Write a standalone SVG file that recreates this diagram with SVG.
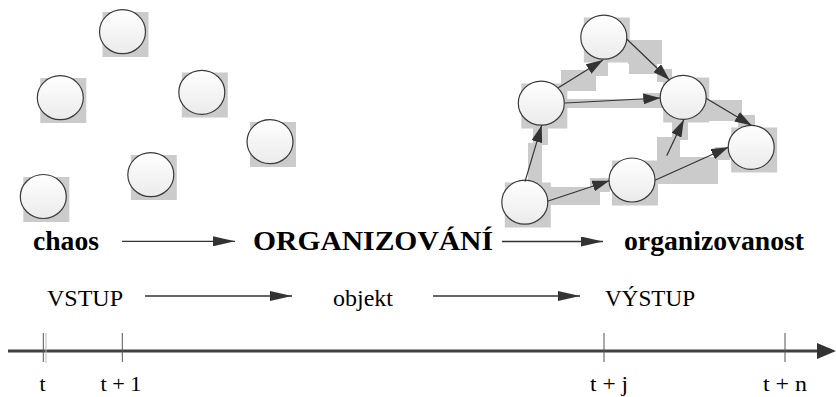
<svg xmlns="http://www.w3.org/2000/svg" width="836" height="397" viewBox="0 0 836 397">
  <defs>
    <linearGradient id="ball" x1="0" y1="0" x2="0" y2="1">
      <stop offset="0" stop-color="#ffffff"/>
      <stop offset="1" stop-color="#ebebeb"/>
    </linearGradient>
    <marker id="tip" viewBox="0 0 17 11" refX="17" refY="5.5" markerWidth="17" markerHeight="11" markerUnits="userSpaceOnUse" orient="auto">
      <path d="M0,0 L17,5.5 L0,11 z" fill="#333333"/>
    </marker>
    <marker id="bigtip" viewBox="0 0 22 10" refX="22" refY="5" markerWidth="22" markerHeight="10" markerUnits="userSpaceOnUse" orient="auto">
      <path d="M0,0 L22,5 L0,10 z" fill="#333333"/>
    </marker>
  </defs>
  <style>
    .shadow { fill: #cbcbcb; }
    .ball { fill: url(#ball); stroke: #3a3a3a; stroke-width: 1.2; }
    .edge { stroke: #333333; stroke-width: 1.2; fill: none; marker-end: url(#tip); }
    .flow { stroke: #333333; stroke-width: 1.3; fill: none; marker-end: url(#bigtip); }
    .tick { stroke: #555555; stroke-width: 1; }
    text { font-family: "Liberation Serif", Tinos, "Noto Serif", "DejaVu Serif", FreeSerif, Times, serif; fill: #000000; }
    .bold { font-weight: bold; font-size: 28px; }
    .plain { font-size: 24px; }
    .small { font-size: 22px; }
  </style>

  <!-- scattered nodes -->
  <g id="chaos-a"><rect class="shadow" x="102.5" y="12" width="46" height="45"/><ellipse class="ball" cx="122.5" cy="31.7" rx="23" ry="22"/></g>
  <g id="chaos-b"><rect class="shadow" x="40.3" y="78" width="46" height="45"/><ellipse class="ball" cx="60.3" cy="97.7" rx="23" ry="22"/></g>
  <g id="chaos-c"><rect class="shadow" x="181.8" y="72.5" width="46" height="45"/><ellipse class="ball" cx="201.8" cy="92.3" rx="23" ry="22"/></g>
  <g id="chaos-d"><rect class="shadow" x="250" y="122" width="46" height="45"/><ellipse class="ball" cx="270" cy="141.7" rx="23" ry="22"/></g>
  <g id="chaos-e"><rect class="shadow" x="130.8" y="155" width="46" height="45"/><ellipse class="ball" cx="150.8" cy="174.7" rx="23" ry="22"/></g>
  <g id="chaos-f"><rect class="shadow" x="23.3" y="177" width="46" height="45"/><ellipse class="ball" cx="43.3" cy="196.5" rx="23" ry="22"/></g>

  <!-- connector shadows -->
  <g id="edge-shadows" class="shadow">
    <rect x="528" y="143" width="14" height="41"/>
    <rect x="533" y="127" width="15" height="18"/>
    <rect x="561" y="70" width="35" height="21"/>
    <rect x="593" y="61" width="15" height="15"/>
    <rect x="565" y="99" width="83" height="9"/>
    <rect x="643" y="93" width="20" height="15"/>
    <rect x="628" y="40" width="34" height="24"/>
    <rect x="629" y="63" width="28" height="11"/>
    <rect x="657" y="69" width="15" height="13"/>
    <rect x="706" y="100" width="36" height="21"/>
    <rect x="738" y="115" width="17" height="12"/>
    <rect x="547" y="187" width="53" height="18"/>
    <rect x="590" y="178" width="20" height="14"/>
    <rect x="657" y="157" width="61" height="27"/>
    <rect x="715" y="147" width="15" height="13"/>
    <rect x="657" y="137" width="23" height="20"/>
    <rect x="672" y="122" width="16" height="18"/>
  </g>

  <!-- organised nodes -->
  <g id="node-1"><rect class="shadow" x="583.8" y="17.5" width="46" height="45"/><ellipse class="ball" cx="603.8" cy="37.2" rx="23" ry="22"/></g>
  <g id="node-2"><rect class="shadow" x="521.3" y="83.5" width="46" height="45"/><ellipse class="ball" cx="541.3" cy="103.2" rx="23" ry="22"/></g>
  <g id="node-3"><rect class="shadow" x="663.2" y="77.5" width="46" height="45"/><ellipse class="ball" cx="683.2" cy="97.3" rx="23" ry="22"/></g>
  <g id="node-4"><rect class="shadow" x="731.2" y="127.5" width="46" height="45"/><ellipse class="ball" cx="751.2" cy="147.3" rx="23" ry="22"/></g>
  <g id="node-5"><rect class="shadow" x="612" y="160.5" width="46" height="45"/><ellipse class="ball" cx="632" cy="180" rx="23" ry="22"/></g>
  <g id="node-6"><rect class="shadow" x="504.8" y="182.5" width="46" height="45"/><ellipse class="ball" cx="524.8" cy="202.2" rx="23" ry="22"/></g>

  <!-- connectors -->
  <g id="connectors">
    <line class="edge" x1="525" y1="181.7" x2="541.7" y2="125.3"/>
    <line class="edge" x1="558.3" y1="87.7" x2="603" y2="60"/>
    <line class="edge" x1="565" y1="103" x2="660.3" y2="98"/>
    <line class="edge" x1="626.7" y1="39" x2="669.5" y2="80"/>
    <line class="edge" x1="706" y1="98.3" x2="751.7" y2="125.5"/>
    <line class="edge" x1="547.5" y1="201.3" x2="609.3" y2="180.7"/>
    <line class="edge" x1="655" y1="180.2" x2="728.3" y2="147.2"/>
    <line class="edge" x1="666.7" y1="155.7" x2="683.8" y2="119.8"/>

    <line class="flow" x1="122" y1="241.3" x2="235" y2="241.3"/>
    <line class="flow" x1="502" y1="241.5" x2="603" y2="241.5"/>
    <line class="flow" x1="145" y1="296" x2="292" y2="296"/>
    <line class="flow" x1="433" y1="296" x2="580" y2="296"/>
  </g>

  <!-- labels -->
  <g id="labels">
    <text class="bold" x="33" y="250" textLength="66" lengthAdjust="spacingAndGlyphs">chaos</text>
    <text class="bold" x="253" y="250" textLength="240" lengthAdjust="spacingAndGlyphs">ORGANIZOVÁNÍ</text>
    <text class="bold" x="624" y="250" textLength="180" lengthAdjust="spacingAndGlyphs">organizovanost</text>
    <text class="plain" x="47" y="306" textLength="76" lengthAdjust="spacingAndGlyphs">VSTUP</text>
    <text class="plain" x="333" y="306" textLength="60" lengthAdjust="spacingAndGlyphs">objekt</text>
    <text class="plain" x="605" y="306" textLength="90" lengthAdjust="spacingAndGlyphs">VÝSTUP</text>
  </g>

  <!-- time axis -->
  <g id="time-axis">
    <line x1="8" y1="351" x2="820" y2="351" stroke="#404040" stroke-width="3"/>
    <path d="M817,343 L836,351 L817,359 z" fill="#333333"/>
    <line class="tick" x1="43.3" y1="333" x2="43.3" y2="362"/>
    <line x1="46" y1="333" x2="46" y2="363" stroke="#bbbbbb" stroke-width="1"/>
    <line class="tick" x1="122.3" y1="333" x2="122.3" y2="362"/>
    <line class="tick" x1="604" y1="333" x2="604" y2="362"/>
    <line class="tick" x1="785" y1="333" x2="785" y2="362"/>
  </g>
  <g id="tick-labels">
    <text class="small" x="39.5" y="391">t</text>
    <text class="small" x="100.5" y="391" textLength="41" lengthAdjust="spacingAndGlyphs">t + 1</text>
    <text class="small" x="590" y="391" textLength="38" lengthAdjust="spacingAndGlyphs">t + j</text>
    <text class="small" x="763" y="391" textLength="44" lengthAdjust="spacingAndGlyphs">t + n</text>
  </g>
</svg>
